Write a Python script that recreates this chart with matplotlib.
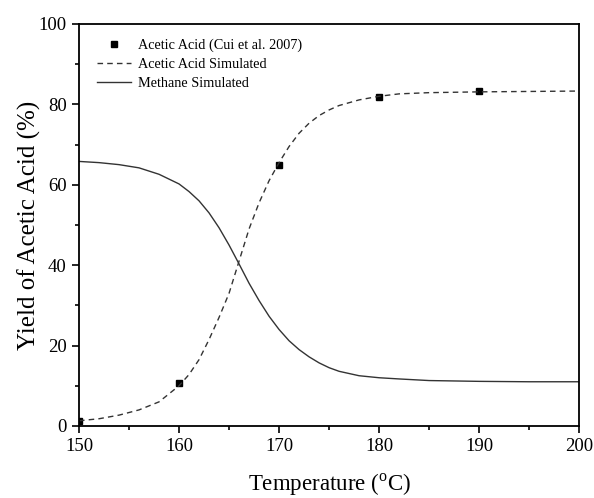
import matplotlib
matplotlib.use("Agg")
import matplotlib.pyplot as plt
from matplotlib.ticker import MultipleLocator

# experimental points (Cui et al. 2007)
temp_exp = [150, 160, 170, 180, 190]
acetic_exp = [1.3, 10.8, 64.9, 81.9, 83.2]

# simulated curves
temp_sim = [150, 152, 154, 156, 158, 160, 161, 162, 163, 164, 165, 166, 167, 168, 169,
            170, 171, 172, 173, 174, 175, 176, 178, 180, 182, 185, 190, 195, 200]
acetic_sim = [1.3, 1.8, 2.7, 4.0, 6.0, 10.0, 12.8, 16.5, 21.5, 27.0, 33.0, 41.0, 49.0, 55.5, 61.0,
              65.5, 69.5, 72.8, 75.3, 77.2, 78.6, 79.7, 81.1, 82.0, 82.6, 82.9, 83.1, 83.2, 83.3]
methane_sim = [65.8, 65.5, 65.0, 64.2, 62.6, 60.2, 58.3, 56.0, 53.0, 49.3, 45.0, 40.3, 35.5, 31.2, 27.3,
               24.0, 21.2, 19.0, 17.2, 15.7, 14.5, 13.6, 12.5, 12.0, 11.7, 11.3, 11.1, 11.0, 11.0]

plt.rcParams['font.family'] = ['Liberation Serif', 'DejaVu Serif']
plt.rcParams['mathtext.fontset'] = 'custom'
plt.rcParams['mathtext.rm'] = 'Liberation Serif'

fig = plt.figure(figsize=(5.94, 4.98), dpi=100)
ax = fig.add_axes([0.133, 0.1446, 0.842, 0.8074])

ax.plot(temp_exp, acetic_exp, 's', color='black', markersize=4, label='Acetic Acid (Cui et al. 2007)')
ax.plot(temp_sim, acetic_sim, color='#333333', lw=1.0, dashes=(4, 3), label='Acetic Acid Simulated')
ax.plot(temp_sim, methane_sim, color='#333333', lw=1.0, label='Methane Simulated')

ax.set_xlim(150, 200)
ax.set_ylim(0, 100)
ax.xaxis.set_major_locator(MultipleLocator(10))
ax.xaxis.set_minor_locator(MultipleLocator(5))
ax.yaxis.set_major_locator(MultipleLocator(20))
ax.yaxis.set_minor_locator(MultipleLocator(10))
ax.tick_params(which='both', direction='out', labelsize=13.5, width=1.2)
ax.tick_params(which='major', length=5, pad=4)
ax.tick_params(which='minor', length=3)
for s in ax.spines.values():
    s.set_linewidth(1.3)

ax.set_xlabel('Temperature ($^\\mathregular{o}$C)', fontsize=16.5, labelpad=12)
ax.set_ylabel('Yield of Acetic Acid (%)', fontsize=18, labelpad=-2)

ax.legend(loc='upper left', frameon=False, fontsize=10.3, handlelength=2.4,
          handletextpad=0.5, labelspacing=0.42, bbox_to_anchor=(0.01, 0.995))

fig.savefig('out.png', dpi=100)
